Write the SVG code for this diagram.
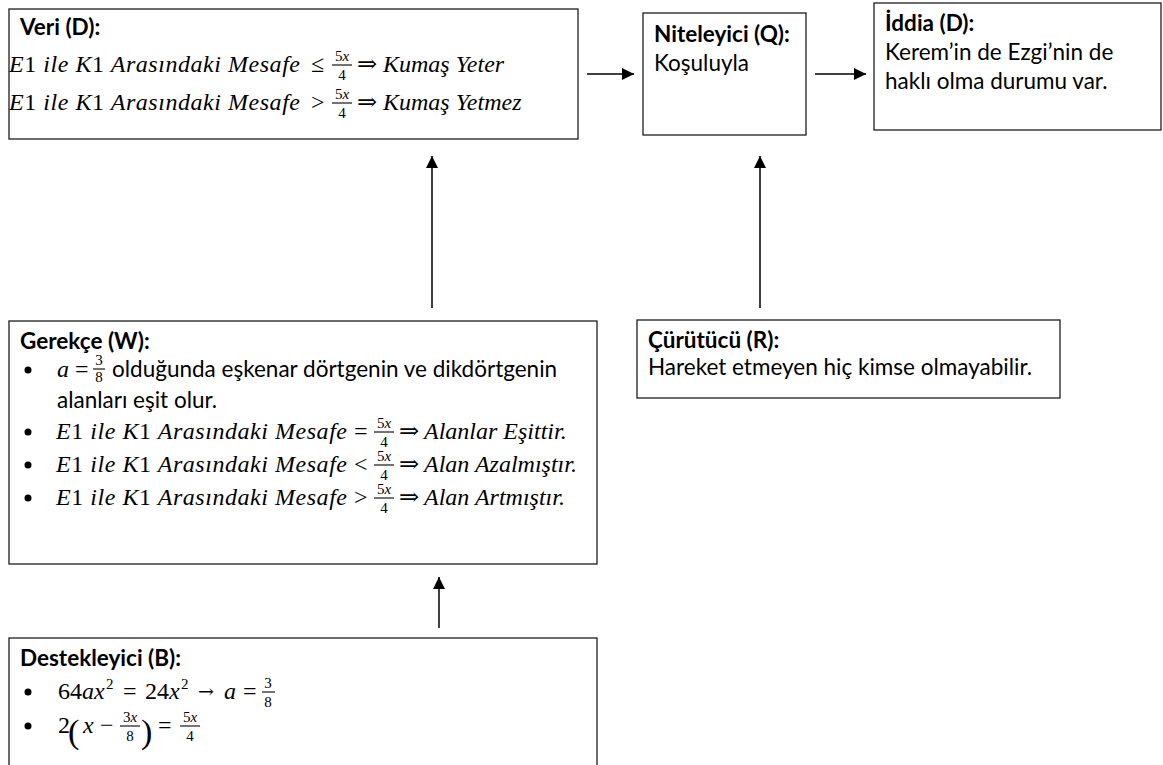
<svg xmlns="http://www.w3.org/2000/svg" width="1163" height="765" viewBox="0 0 1163 765">
  <defs>
    <style>
      .box { fill: #fff; stroke: #1e1e1e; stroke-width: 1.3; }
      .h { font-family: Lato, "Liberation Sans", sans-serif; font-weight: 700; font-size: 22.5px; fill: #000; }
      .t { font-family: Lato, "Liberation Sans", sans-serif; font-size: 22.5px; fill: #000; }
      .m { font-family: "Liberation Serif", "DejaVu Serif", serif; font-style: italic; font-size: 24px; fill: #000; }
      .o { font-family: "Liberation Serif", "DejaVu Serif", serif; font-size: 24px; fill: #000; }
      .n { font-style: normal; }
      .f { font-family: "Liberation Serif", "DejaVu Serif", serif; font-size: 15px; text-anchor: middle; fill: #000; }
      .fi { font-style: italic; }
      .sup { font-size: 15px; }
      .par { font-size: 34px; }
      .arr { font-family: "DejaVu Serif", serif; font-size: 19px; }
      .bar { stroke: #000; stroke-width: 1.1; }
      .dot { fill: #000; }
      .conn line { stroke: #000; stroke-width: 1.5; fill: none; }
    </style>
    <marker id="ah" viewBox="0 0 12 12" refX="12" refY="6" markerWidth="12" markerHeight="12" markerUnits="userSpaceOnUse" orient="auto">
      <path d="M0,0 L12,6 L0,12 Z" fill="#000"/>
    </marker>
  </defs>

  <!-- Veri (D) -->
  <g id="veri">
    <rect class="box" x="9" y="9" width="569" height="130"/>
    <text class="h" x="20" y="35">Veri (D):</text>
    <text class="m" x="9" y="72" textLength="291" lengthAdjust="spacing">E<tspan class="n">1</tspan> ile K<tspan class="n">1</tspan> Arasındaki Mesafe</text>
    <text class="o" x="311" y="72">≤</text>
    <text class="f" x="342" y="61">5<tspan class="fi">x</tspan></text>
    <line class="bar" x1="332" y1="65" x2="352" y2="65"/>
    <text class="f" x="342" y="80">4</text>
    <text class="o" x="357" y="72">⇒</text>
    <text class="m" x="383" y="72">Kumaş Yeter</text>

    <text class="m" x="9" y="110" textLength="291" lengthAdjust="spacing">E<tspan class="n">1</tspan> ile K<tspan class="n">1</tspan> Arasındaki Mesafe</text>
    <text class="o" x="311" y="110">&gt;</text>
    <text class="f" x="342" y="99">5<tspan class="fi">x</tspan></text>
    <line class="bar" x1="332" y1="103" x2="352" y2="103"/>
    <text class="f" x="342" y="118">4</text>
    <text class="o" x="357" y="110">⇒</text>
    <text class="m" x="383" y="110">Kumaş Yetmez</text>
  </g>

  <!-- Niteleyici (Q) -->
  <g id="niteleyici">
    <rect class="box" x="643" y="13" width="163" height="122"/>
    <text class="h" x="654" y="42">Niteleyici (Q):</text>
    <text class="t" x="654" y="71">Koşuluyla</text>
  </g>

  <!-- İddia (D) -->
  <g id="iddia">
    <rect class="box" x="874" y="3" width="287" height="127"/>
    <text class="h" x="885" y="31">İddia (D):</text>
    <text class="t" x="885" y="60">Kerem’in de Ezgi’nin de</text>
    <text class="t" x="885" y="89">haklı olma durumu var.</text>
  </g>

  <!-- Gerekçe (W) -->
  <g id="gerekce">
    <rect class="box" x="9" y="321" width="588" height="243"/>
    <text class="h" x="20" y="349">Gerekçe (W):</text>

    <circle class="dot" cx="28" cy="370" r="3.5"/>
    <text class="m" x="57" y="377">a</text>
    <text class="o" x="75" y="377">=</text>
    <text class="f" x="99" y="365">3</text>
    <line class="bar" x1="93" y1="369" x2="105" y2="369"/>
    <text class="f" x="99" y="382">8</text>
    <text class="t" x="112" y="377">olduğunda eşkenar dörtgenin ve dikdörtgenin</text>
    <text class="t" x="57" y="408">alanları eşit olur.</text>

    <circle class="dot" cx="28" cy="432" r="3.5"/>
    <text class="m" x="56" y="439" textLength="291" lengthAdjust="spacing">E<tspan class="n">1</tspan> ile K<tspan class="n">1</tspan> Arasındaki Mesafe</text>
    <text class="o" x="354" y="439">=</text>
    <text class="f" x="384" y="428">5<tspan class="fi">x</tspan></text>
    <line class="bar" x1="374" y1="432" x2="394" y2="432"/>
    <text class="f" x="384" y="447">4</text>
    <text class="o" x="399" y="439">⇒</text>
    <text class="m" x="424" y="439">Alanlar Eşittir.</text>

    <circle class="dot" cx="28" cy="465" r="3.5"/>
    <text class="m" x="56" y="472" textLength="291" lengthAdjust="spacing">E<tspan class="n">1</tspan> ile K<tspan class="n">1</tspan> Arasındaki Mesafe</text>
    <text class="o" x="354" y="472">&lt;</text>
    <text class="f" x="384" y="461">5<tspan class="fi">x</tspan></text>
    <line class="bar" x1="374" y1="465" x2="394" y2="465"/>
    <text class="f" x="384" y="480">4</text>
    <text class="o" x="399" y="472">⇒</text>
    <text class="m" x="424" y="472">Alan Azalmıştır.</text>

    <circle class="dot" cx="28" cy="498" r="3.5"/>
    <text class="m" x="56" y="505" textLength="291" lengthAdjust="spacing">E<tspan class="n">1</tspan> ile K<tspan class="n">1</tspan> Arasındaki Mesafe</text>
    <text class="o" x="354" y="505">&gt;</text>
    <text class="f" x="384" y="494">5<tspan class="fi">x</tspan></text>
    <line class="bar" x1="374" y1="498" x2="394" y2="498"/>
    <text class="f" x="384" y="513">4</text>
    <text class="o" x="399" y="505">⇒</text>
    <text class="m" x="424" y="505">Alan Artmıştır.</text>
  </g>

  <!-- Çürütücü (R) -->
  <g id="curutucu">
    <rect class="box" x="637" y="320" width="423" height="78"/>
    <text class="h" x="648" y="348">Çürütücü (R):</text>
    <text class="t" x="648" y="375">Hareket etmeyen hiç kimse olmayabilir.</text>
  </g>

  <!-- Destekleyici (B) -->
  <g id="destekleyici">
    <rect class="box" x="9" y="638" width="588" height="140"/>
    <text class="h" x="20" y="666">Destekleyici (B):</text>

    <circle class="dot" cx="28" cy="692" r="3.5"/>
    <text class="m" x="58" y="699"><tspan class="n">64</tspan>ax</text>
    <text class="o sup" x="106" y="689">2</text>
    <text class="o" x="123" y="699">=</text>
    <text class="m" x="145" y="699"><tspan class="n">24</tspan>x</text>
    <text class="o sup" x="181" y="689">2</text>
    <text class="o arr" x="198" y="698">→</text>
    <text class="m" x="224" y="699">a</text>
    <text class="o" x="243" y="699">=</text>
    <text class="f" x="268" y="688">3</text>
    <line class="bar" x1="262" y1="692" x2="275" y2="692"/>
    <text class="f" x="268" y="707">8</text>

    <circle class="dot" cx="28" cy="726" r="3.5"/>
    <text class="o" x="58" y="733">2</text>
    <text class="o par" x="68" y="743">(</text>
    <text class="m" x="83" y="733">x</text>
    <text class="o" x="100" y="733">−</text>
    <text class="f" x="130" y="722">3<tspan class="fi">x</tspan></text>
    <line class="bar" x1="120" y1="726" x2="140" y2="726"/>
    <text class="f" x="130" y="741">8</text>
    <text class="o par" x="141" y="743">)</text>
    <text class="o" x="158" y="733">=</text>
    <text class="f" x="190" y="722">5<tspan class="fi">x</tspan></text>
    <line class="bar" x1="180" y1="726" x2="200" y2="726"/>
    <text class="f" x="190" y="741">4</text>
  </g>

  <!-- connectors -->
  <g id="connectors" class="conn">
    <line x1="587" y1="74" x2="634" y2="74" marker-end="url(#ah)"/>
    <line x1="815" y1="74" x2="866" y2="74" marker-end="url(#ah)"/>
    <line x1="432" y1="308" x2="432" y2="156" marker-end="url(#ah)"/>
    <line x1="760" y1="308" x2="760" y2="156" marker-end="url(#ah)"/>
    <line x1="439" y1="628" x2="439" y2="577" marker-end="url(#ah)"/>
  </g>
</svg>
